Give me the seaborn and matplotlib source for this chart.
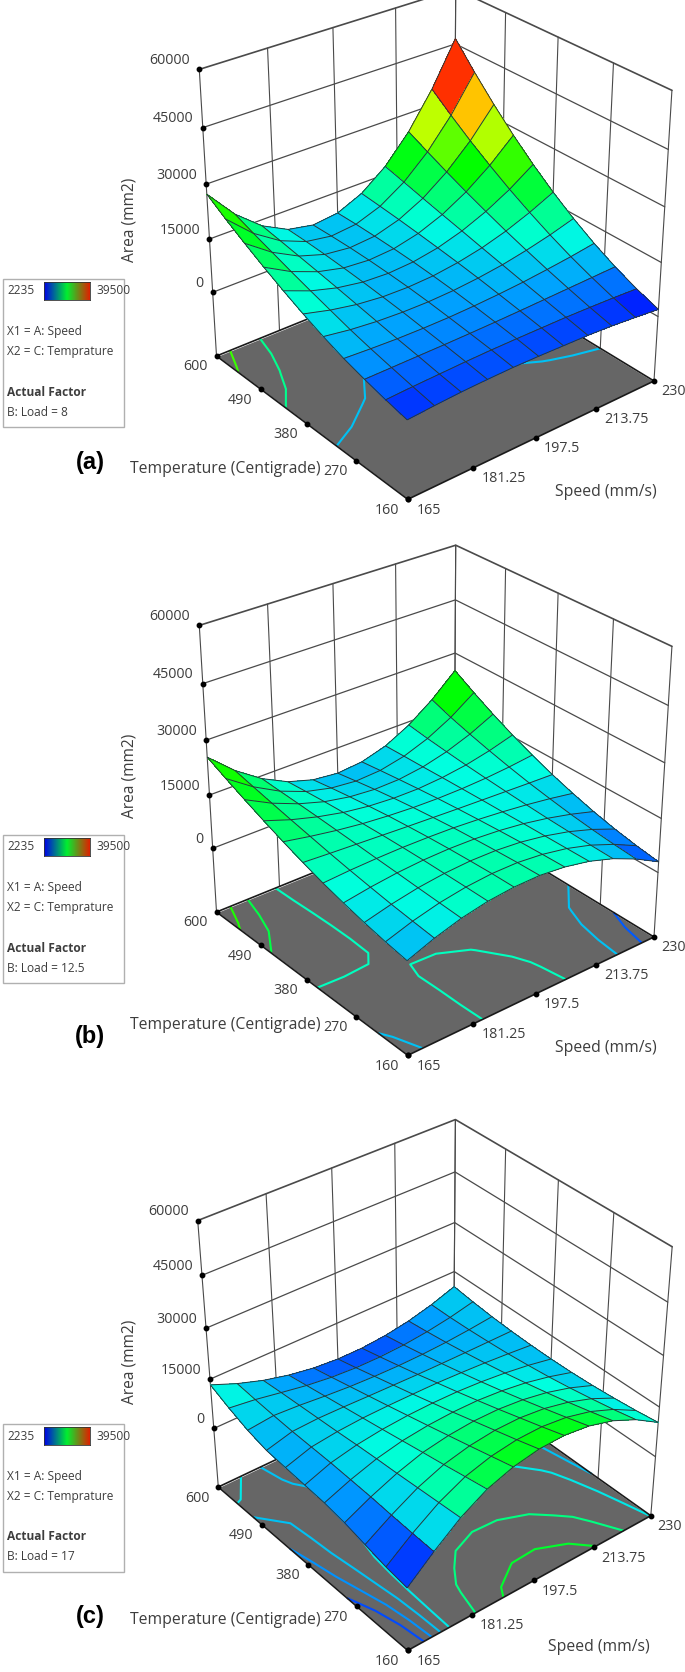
# ---------------------------------------------------
# Area response surfaces for three loads
# ---------------------------------------------------

import numpy as np
import matplotlib
matplotlib.use("Agg")
import matplotlib.pyplot as plt
from matplotlib.colors import Normalize
from matplotlib.patches import Rectangle
from mpl_toolkits.mplot3d import proj3d
import seaborn as sns

# Data
SPEED_GRID = [165, 171.5, 178, 184.5, 191, 197.5, 204, 210.5, 217, 223.5, 230]
TEMP_GRID = [160, 204, 248, 292, 336, 380, 424, 468, 512, 556, 600]
SPEED_TICKS = [165, 181.25, 197.5, 213.75, 230]
SPEED_LABELS = ["165", "181.25", "197.5", "213.75", "230"]
TEMP_TICKS = [160, 270, 380, 490, 600]
AREA_TICKS = [0, 15000, 30000, 45000, 60000]
AREA_FLOOR = -18500
LOADS = ["8", "12.5", "17"]
PANEL_NAMES = ["(a)", "(b)", "(c)"]
CONTOUR_LEVELS = [[8500, 15000, 23000], [5000, 8500, 13000, 18000, 22000], [4500, 6500, 8500, 10500, 15500, 19000]]

# rows run with temperature, columns with speed
AREA_A = [
    [3000, 3500, 3900, 4100, 4200, 4100, 3900, 3700, 3300, 2700, 2000],
    [4300, 4600, 4800, 5000, 5100, 5100, 5050, 5000, 4800, 4550, 4200],
    [5800, 5800, 5800, 5800, 5850, 5950, 6100, 6300, 6500, 6700, 6900],
    [7500, 7050, 6700, 6550, 6550, 6750, 7100, 7600, 8300, 9100, 10100],
    [9600, 8450, 7700, 7300, 7200, 7450, 8050, 8950, 10250, 11850, 13800],
    [12000, 10100, 8700, 7900, 7700, 8000, 8900, 10300, 12300, 14900, 18000],
    [14650, 11750, 9700, 8450, 8050, 8450, 9650, 11700, 14550, 18200, 22700],
    [17500, 13500, 10650, 8900, 8300, 8750, 10350, 13050, 16900, 21850, 27900],
    [20550, 15350, 11550, 9250, 8400, 8950, 11000, 14450, 19400, 25750, 33600],
    [23800, 17200, 12450, 9500, 8350, 9050, 11550, 15900, 22050, 30000, 39800],
    [27300, 19200, 13300, 9600, 8200, 9000, 12050, 17300, 24800, 34550, 46500],
]
AREA_B = [
    [7000, 9700, 11800, 13200, 13900, 14000, 13300, 11900, 9700, 6700, 3000],
    [8000, 10300, 12050, 13200, 13800, 13800, 13100, 11800, 9850, 7200, 3950],
    [9200, 10950, 12300, 13150, 13550, 13450, 12850, 11700, 10050, 7850, 5150],
    [10600, 11750, 12600, 13100, 13250, 13050, 12500, 11600, 10300, 8650, 6650],
    [12150, 12600, 12850, 12950, 12850, 12600, 12100, 11450, 10650, 9650, 8450],
    [14000, 13550, 13150, 12750, 12350, 12000, 11650, 11350, 11050, 10750, 10500],
    [16000, 14600, 13400, 12450, 11800, 11350, 11150, 11200, 11500, 12050, 12850],
    [18150, 15650, 13650, 12100, 11100, 10600, 10550, 11050, 12000, 13500, 15450],
    [20450, 16750, 13850, 11700, 10350, 9750, 9900, 10850, 12600, 15100, 18350],
    [22850, 17900, 14000, 11200, 9500, 8800, 9200, 10700, 13250, 16850, 21550],
    [25400, 19100, 14200, 10650, 8550, 7800, 8450, 10500, 14050, 18950, 25000],
]
AREA_C = [
    [500, 7000, 12800, 17100, 19650, 21000, 21200, 20250, 18150, 14850, 10400],
    [1500, 7300, 12300, 15950, 18050, 19100, 19200, 18300, 16400, 13450, 9550],
    [3000, 7700, 11800, 14750, 16450, 17300, 17300, 16450, 14750, 12250, 8900],
    [4500, 8200, 11300, 13650, 14900, 15500, 15400, 14650, 13250, 11150, 8400],
    [5500, 8500, 10900, 12500, 13350, 13700, 13600, 12950, 11850, 10200, 8100],
    [6000, 8800, 10400, 11350, 11850, 12000, 11850, 11350, 10550, 9450, 8000],
    [6500, 8900, 9800, 10250, 10350, 10300, 10200, 9850, 9400, 8800, 8100],
    [7000, 9000, 9300, 9150, 8900, 8700, 8500, 8400, 8350, 8350, 8350],
    [8500, 9300, 8800, 8050, 7450, 7100, 6950, 7050, 7400, 8000, 8800],
    [10700, 9700, 8300, 6950, 6000, 5500, 5450, 5800, 6600, 7800, 9450],
    [13300, 10200, 7700, 5850, 4600, 4000, 4000, 4650, 5900, 7800, 10300],
]
PANEL_AREAS = [AREA_A, AREA_B, AREA_C]

# Layout in image pixels
FIG_W, FIG_H = 685, 1672
ELEVATIONS = [29, 29, 35.5]
AZIMUTH = -129
ANCHORS = [((216.5, 356), (654, 380)), ((216.5, 912), (654, 936)), ((218.3, 1487), (650.8, 1516))]
LEGEND_SHIFT = [0, 556, 1145]
TEMP_LABEL_POS = [(225, 469), (225, 1025), (225, 1620)]
SPEED_LABEL_POS = [(606, 492), (606, 1048), (599, 1647)]
AREA_LABEL_POS = [(129, 220), (129, 776), (129, 1362)]
PANEL_Y = [462, 1036, 1616]

sns.set_theme(style="white")
plt.rcParams["font.family"] = ["Open Sans", "DejaVu Sans"]
TEXT = "#3d3d3d"
GRID = "#4a4a4a"

surface_cmap = sns.blend_palette(["#0000ff", "#00a0ff", "#00ffe0", "#00ff70", "#00ff00", "#80ff00", "#ffff00",
                                  "#ff8000", "#ff0000"], as_cmap=True)
legend_cmap = sns.blend_palette(["#0000e8", "#00f030", "#e02000"], as_cmap=True)
norm = Normalize(2235, 39500)


def px_rect(x0, y0, x1, y1):
    return [x0 / FIG_W, 1 - y1 / FIG_H, (x1 - x0) / FIG_W, (y1 - y0) / FIG_H]


def to_px(ax, x, y, z):
    X, Y, _ = proj3d.proj_transform(x, y, z, ax.get_proj())
    return ax.transData.transform((X, Y))


def fit_axes(ax, left, right):
    # size and shift the 3D axes so the floor corners land on the wanted pixels
    size, cx, cy = 700.0, 340.0, left[1]
    for _ in range(3):
        ax.set_position(px_rect(cx - size / 2, cy - size / 2, cx + size / 2, cy + size / 2))
        ax.apply_aspect()
        a = to_px(ax, SPEED_TICKS[0], TEMP_TICKS[-1], AREA_FLOOR)
        b = to_px(ax, SPEED_TICKS[-1], TEMP_TICKS[0], AREA_FLOOR)
        size *= (right[0] - left[0]) / (b[0] - a[0])
        ax.set_position(px_rect(cx - size / 2, cy - size / 2, cx + size / 2, cy + size / 2))
        ax.apply_aspect()
        a = to_px(ax, SPEED_TICKS[0], TEMP_TICKS[-1], AREA_FLOOR)
        cx += left[0] - a[0]
        cy += left[1] - (FIG_H - a[1])
    ax.set_position(px_rect(cx - size / 2, cy - size / 2, cx + size / 2, cy + size / 2))


def draw_box(ax):
    x0, x1 = SPEED_TICKS[0], SPEED_TICKS[-1]
    y0, y1 = TEMP_TICKS[0], TEMP_TICKS[-1]
    z0, z1 = AREA_FLOOR, AREA_TICKS[-1]

    fx, fy = np.meshgrid([x0, x1], [y0, y1])
    ax.plot_surface(fx, fy, np.full_like(fx, z0, dtype=float), color="#666666", shade=False, zorder=1)

    # back walls
    for x in SPEED_TICKS:
        ax.plot([x, x], [y1, y1], [z0, z1], color=GRID, lw=0.8, zorder=2)
    for y in TEMP_TICKS:
        ax.plot([x1, x1], [y, y], [z0, z1], color=GRID, lw=0.8, zorder=2)
    for z in AREA_TICKS:
        ax.plot([x0, x1, x1], [y1, y1, y0], [z, z, z], color=GRID, lw=0.9 if z < z1 else 1.2, zorder=2)

    # floor border
    ax.plot([x0, x1, x1, x0, x0], [y0, y0, y1, y1, y0], [z0] * 5, color="#1a1a1a", lw=1.2, zorder=4)


def draw_ticks(ax):
    x0, x1 = SPEED_TICKS[0], SPEED_TICKS[-1]
    y0, y1 = TEMP_TICKS[0], TEMP_TICKS[-1]
    dots = dict(color="black", ms=3.2, marker="o", ls="none", zorder=7)
    ax.plot([x0] * 5, [y1] * 5, AREA_TICKS, **dots)
    ax.plot([x0] * 5, TEMP_TICKS, [AREA_FLOOR] * 5, **dots)
    ax.plot(SPEED_TICKS, [y0] * 5, [AREA_FLOOR] * 5, **dots)

    def label(s, p, dx, dy, ha):
        X, Y, _ = proj3d.proj_transform(p[0], p[1], p[2], ax.get_proj())
        ax.annotate(s, xy=(X, Y), xytext=(dx, dy), textcoords="offset pixels", ha=ha, va="center",
                    fontsize=10.3, color=TEXT, annotation_clip=False, zorder=8)

    for z in AREA_TICKS:
        label(str(z), (x0, y1, z), -9, 9, "right")
    for t in TEMP_TICKS:
        label(str(t), (x0, t, AREA_FLOOR), -21, -11, "center")
    offsets = [21, 30, 26, 30, 19]
    for s, dx, lab in zip(SPEED_TICKS, offsets, SPEED_LABELS):
        label(lab, (s, y0, AREA_FLOOR), dx, -11, "center")


def draw_legend(shift, load):
    fig.add_artist(Rectangle((2.7 / FIG_W, 1 - (426.7 + shift) / FIG_H), 121.3 / FIG_W, 147.7 / FIG_H,
                             transform=fig.transFigure, fc="none", ec="#b0b0b0", lw=1.0))
    bar = fig.add_axes(px_rect(44.3, 282.3 + shift, 90.3, 300 + shift))
    bar.set_zorder(3)
    bar.imshow(np.linspace(0, 1, 128)[None, :], cmap=legend_cmap, aspect="auto")
    bar.set_xticks([])
    bar.set_yticks([])
    for spine in bar.spines.values():
        spine.set_color("#333333")
        spine.set_linewidth(0.6)

    def put(x, y, s, **kw):
        fig.text(x / FIG_W, 1 - (y + shift) / FIG_H, s, va="center", ha="left", fontsize=8.6, color=TEXT, **kw)

    put(7, 291, "2235")
    put(96, 291, "39500")
    put(7, 331.7, "X1 = A: Speed")
    put(7, 351.7, "X2 = C: Temprature")
    put(7, 392, "Actual Factor", fontweight="bold")
    put(7, 412, "B: Load = " + load)


fig = plt.figure(figsize=(FIG_W / 100, FIG_H / 100), dpi=100, facecolor="white")

for i, area in enumerate(PANEL_AREAS):
    ax = fig.add_axes(px_rect(0, 0, 600, 600), projection="3d", computed_zorder=False)
    ax.set_facecolor("none")
    ax.set_axis_off()
    ax.view_init(elev=ELEVATIONS[i], azim=AZIMUTH)
    ax.set_proj_type("persp", focal_length=0.7)
    ax.set_box_aspect((1, 1, 1.02))
    ax.set_xlim(SPEED_TICKS[0], SPEED_TICKS[-1], view_margin=0)
    ax.set_ylim(TEMP_TICKS[0], TEMP_TICKS[-1], view_margin=0)
    ax.set_zlim(AREA_FLOOR, AREA_TICKS[-1], view_margin=0)
    fit_axes(ax, *ANCHORS[i])

    X, Y = np.meshgrid(SPEED_GRID, TEMP_GRID)
    Z = np.array(area, dtype=float)

    draw_box(ax)
    ax.contour(X, Y, Z, levels=CONTOUR_LEVELS[i], zdir="z", offset=AREA_FLOOR, cmap=surface_cmap, norm=norm,
               linewidths=1.5, zorder=3)
    ax.plot_surface(X, Y, Z, rstride=1, cstride=1, cmap=surface_cmap, norm=norm, shade=False,
                    linewidth=0, antialiased=False, zorder=5)
    ax.plot_wireframe(X, Y, Z, rstride=1, cstride=1, color="#27383a", linewidth=0.7, zorder=6)
    draw_ticks(ax)

    tx, ty = TEMP_LABEL_POS[i]
    fig.text(tx / FIG_W, 1 - ty / FIG_H, "Temperature (Centigrade)", ha="center", va="center",
             fontsize=11.3, color=TEXT)
    sx, sy = SPEED_LABEL_POS[i]
    fig.text(sx / FIG_W, 1 - sy / FIG_H, "Speed (mm/s)", ha="center", va="center",
             fontsize=11.3, color=TEXT)
    ax_x, ax_y = AREA_LABEL_POS[i]
    fig.text(ax_x / FIG_W, 1 - ax_y / FIG_H, "Area (mm2)", ha="center", va="center", rotation=90,
             fontsize=11.2, color=TEXT)
    fig.text(90 / FIG_W, 1 - PANEL_Y[i] / FIG_H, PANEL_NAMES[i], ha="center", va="center", fontsize=17,
             fontweight="bold", family="Liberation Sans", color="black")
    draw_legend(LEGEND_SHIFT[i], LOADS[i])

fig.savefig("out.png", dpi=100)
